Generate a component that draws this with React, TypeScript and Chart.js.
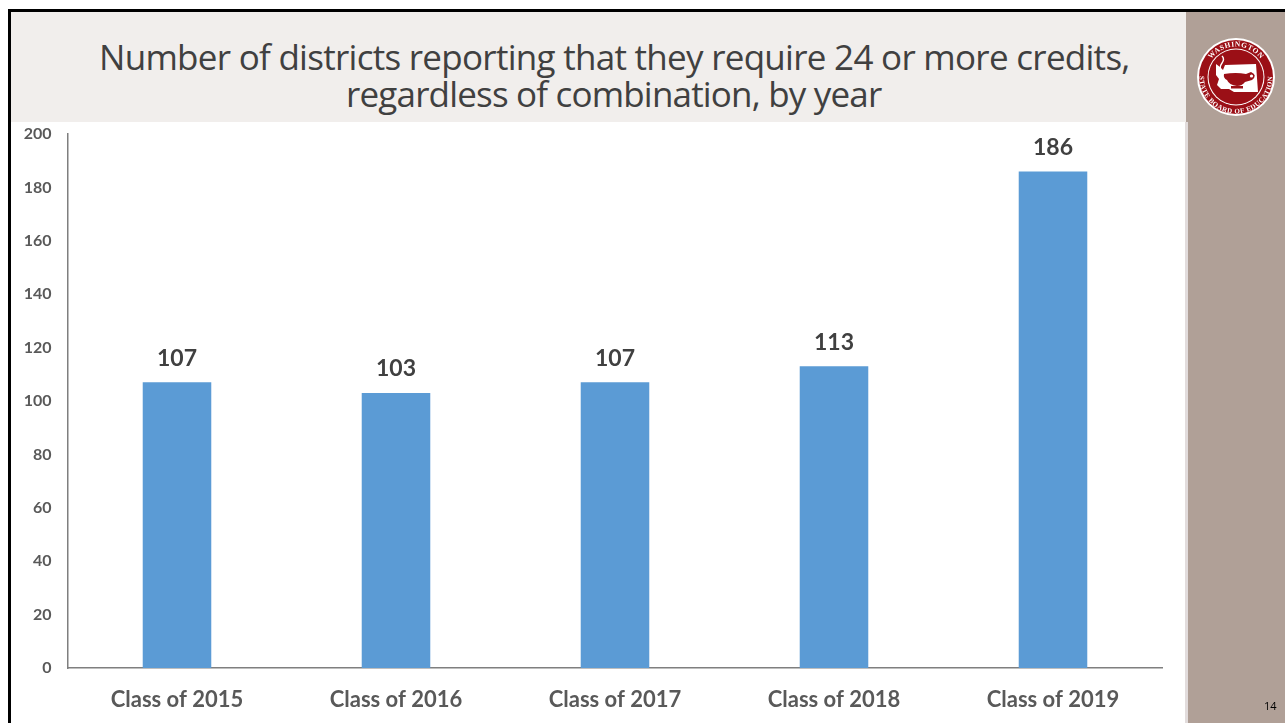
import React, { useEffect, useRef } from "react";
import { Chart, registerables } from "chart.js";

Chart.register(...registerables);

const categories = ["Class of 2015", "Class of 2016", "Class of 2017", "Class of 2018", "Class of 2019"];
const districtCounts = [107, 103, 107, 113, 186];
const titleLines = ["Number of districts reporting that they require 24 or more credits,", "regardless of combination, by year"];
const pageNumber = "14";

const TEXT = "#595959";

const valueLabels = {
  id: "valueLabels",
  afterDatasetsDraw(chart: any) {
    const { ctx } = chart;
    const meta = chart.getDatasetMeta(0);
    ctx.save();
    ctx.font = '700 23px Lato, sans-serif';
    ctx.fillStyle = "#404040";
    ctx.textAlign = "center";
    ctx.textBaseline = "middle";
    meta.data.forEach((bar: any, i: number) => {
      ctx.fillText(String(districtCounts[i]), bar.x, bar.y - 24);
    });
    ctx.restore();
  },
};

function Logo() {
  return (
    <svg width="80" height="80" viewBox="0 0 80 80" style={{ position: "absolute", left: 1196, top: 37 }}>
      <defs>
        <path id="arcTop" d="M 9.5 40 A 30.5 30.5 0 0 1 70.5 40" />
        <path id="arcBottom" d="M 3.5 40 A 36.5 36.5 0 0 0 76.5 40" />
      </defs>
      <circle cx="40" cy="40" r="39" fill="#ffffff" />
      <circle cx="40" cy="40" r="37" fill="#9b0f16" />
      <circle cx="40" cy="40" r="28.5" fill="#ffffff" />
      <circle cx="40" cy="40" r="27.5" fill="#9b0f16" />
      <text fontFamily="Liberation Serif" fontWeight="700" fontSize="7.4" fill="#ffffff" letterSpacing="0.6" textAnchor="middle">
        <textPath href="#arcTop" startOffset="50%">WASHINGTON</textPath>
      </text>
      <text fontFamily="Liberation Serif" fontWeight="700" fontSize="7" fill="#ffffff" letterSpacing="0.5" textAnchor="middle">
        <textPath href="#arcBottom" startOffset="50%">STATE BOARD OF EDUCATION</textPath>
      </text>
      <path d="M20 27 L24 30 L27 33 L29 28 L60 27 L62 55 L38 55 L33 52 L25 52 L21 48 L23 42 L20 38 Z" fill="#ffffff" />
      <path d="M28 37 Q40 35 50 37 L55 35 Q62 38 56 43 L49 45 Q46 49 41 49 Q33 48 31 43 Q27 41 28 37 Z" fill="#9b0f16" />
      <circle cx="55.5" cy="39" r="1.6" fill="#ffffff" />
      <rect x="35" y="49" width="12" height="2.5" fill="#9b0f16" />
      <path d="M27 37 Q22 31 26 26 Q29 22 26 19" fill="none" stroke="#ffffff" strokeWidth="1.4" />
    </svg>
  );
}

export default function App() {
  const canvasRef = useRef<HTMLCanvasElement>(null);

  useEffect(() => {
    document.body.style.margin = "0";
    const chart = new Chart(canvasRef.current!, {
      type: "bar",
      data: {
        labels: categories,
        datasets: [
          {
            data: districtCounts,
            backgroundColor: "#5b9bd5",
            barPercentage: 0.313,
            categoryPercentage: 1,
          },
        ],
      },
      options: {
        responsive: false,
        animation: false,
        layout: { padding: { top: 134, right: 122.5, bottom: 0, left: 0 } },
        plugins: { legend: { display: false }, tooltip: { enabled: false } },
        scales: {
          x: {
            grid: { display: false, drawTicks: false },
            border: { display: true, color: "#7f7f7f", width: 1.5 },
            ticks: { color: TEXT, font: { family: "Lato", size: 22, weight: 700 }, padding: 19, maxRotation: 0 },
            afterFit(scale: any) {
              scale.height = 55;
            },
          },
          y: {
            min: 0,
            max: 200,
            grid: { display: false, drawTicks: false },
            border: { display: true, color: "#7f7f7f", width: 1.5 },
            ticks: { color: TEXT, stepSize: 20, font: { family: "Lato", size: 16, weight: 700 }, padding: 16 },
            afterFit(scale: any) {
              scale.width = 67.5;
            },
          },
        },
      },
      plugins: [valueLabels],
    });
    return () => chart.destroy();
  }, []);

  return (
    <div style={{ position: "relative", width: 1285, height: 723, background: "#ffffff", overflow: "hidden" }}>
      <div style={{ position: "absolute", left: 8, top: 9, width: 1277, height: 3, background: "#000000" }} />
      <div style={{ position: "absolute", left: 8, top: 9, width: 3, height: 714, background: "#000000" }} />
      <div
        style={{
          position: "absolute",
          left: 11,
          top: 12,
          width: 1175,
          height: 110,
          background: "#f1eeec",
          color: "#404040",
          fontFamily: '"Open Sans", sans-serif',
          fontSize: 35,
          lineHeight: "37px",
          boxSizing: "border-box",
          whiteSpace: "nowrap",
        }}
      >
        <div style={{ position: "absolute", left: 88, top: 26, letterSpacing: "-0.72px" }}>{titleLines[0]}</div>
        <div style={{ position: "absolute", left: 335, top: 63, letterSpacing: "-0.82px" }}>{titleLines[1]}</div>
      </div>
      <div style={{ position: "absolute", left: 1186, top: 12, width: 99, height: 711, background: "#b0a097" }} />
      <div style={{ position: "absolute", left: 1185, top: 122, width: 3, height: 601, background: "#e2dcdc" }} />
      <canvas ref={canvasRef} width={1285} height={723} style={{ position: "absolute", left: 0, top: 0 }} />
      <Logo />
      <div
        style={{
          position: "absolute",
          left: 1264,
          top: 699,
          fontFamily: '"Open Sans", sans-serif',
          fontSize: 11,
          lineHeight: "14px",
          color: "#000000",
        }}
      >
        {pageNumber}
      </div>
    </div>
  );
}
